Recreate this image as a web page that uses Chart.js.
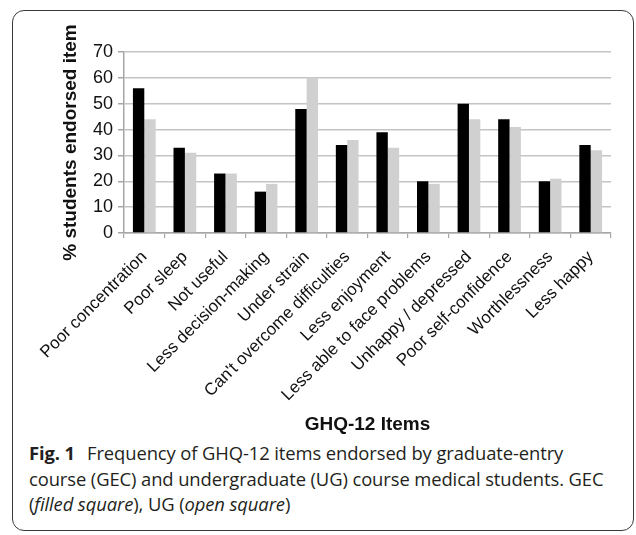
<!DOCTYPE html>
<html>
<head>
<meta charset="utf-8">
<script src="https://cdn.jsdelivr.net/npm/chart.js@4/dist/chart.umd.min.js"></script>
<style>
  html, body { margin: 0; padding: 0; background: #fff; }
  #wrap { position: relative; width: 636px; height: 535px; overflow: hidden; }
  #frame { position: absolute; left: 12px; top: 10px; width: 622px; height: 521px;
           border: 1.5px solid #3a3a3a; border-radius: 12px; box-sizing: border-box; }
  #chartBox { position: absolute; left: 0; top: 0; width: 636px; height: 440px; }
  #caption { position: absolute; left: 29px; top: 440px; width: 600px;
             font-family: "Open Sans", sans-serif; font-size: 18.4px; line-height: 25.5px;
             color: #231f20; white-space: nowrap; letter-spacing: -0.1px; }
  #caption b { font-weight: 700; margin-right: 12px; }
</style>
</head>
<body>
<div id="wrap">
  <div id="frame"></div>
  <div id="chartBox"><canvas id="c" width="636" height="440"></canvas></div>
  <div id="caption">
    <b>Fig. 1</b>Frequency of GHQ-12 items endorsed by graduate-entry<br>
    course (GEC) and undergraduate (UG) course medical students. GEC<br>
    (<i>filled square</i>), UG (<i>open square</i>)
  </div>
</div>
<script>
const categories = ["Poor concentration", "Poor sleep", "Not useful", "Less decision-making",
  "Under strain", "Can't overcome difficulties", "Less enjoyment", "Less able to face problems",
  "Unhappy / depressed", "Poor self-confidence", "Worthlessness", "Less happy"];
const gecValues = [56, 33, 23, 16, 48, 34, 39, 20, 50, 44, 20, 34];
const ugValues  = [44, 31, 23, 19, 60, 36, 33, 19, 44, 41, 21, 32];
const yTicks = [0, 10, 20, 30, 40, 50, 60, 70];
const yTitle = "% students endorsed item";
const xTitle = "GHQ-12 Items";

new Chart(document.getElementById('c'), {
  type: 'bar',
  data: {
    labels: categories,
    datasets: [
      { label: 'GEC', data: gecValues, backgroundColor: '#000000', borderWidth: 0,
        categoryPercentage: 0.56, barPercentage: 1.0 },
      { label: 'UG', data: ugValues, backgroundColor: '#d0d0d0', borderWidth: 0,
        categoryPercentage: 0.56, barPercentage: 1.0 }
    ]
  },
  options: {
    responsive: false,
    animation: false,
    devicePixelRatio: 1,
    layout: { padding: { left: 50, right: 25, top: 52, bottom: 0 } },
    plugins: { legend: { display: false }, tooltip: { enabled: false } },
    scales: {
      x: {
        offset: true,
        grid: { offset: true, drawOnChartArea: false, drawTicks: true, tickLength: 5,
                color: '#a6a6a6', lineWidth: 1.2 },
        border: { display: true, color: '#a6a6a6', width: 1.5 },
        ticks: { minRotation: 45, maxRotation: 45, autoSkip: false, color: '#111',
                 padding: 9, font: { family: 'Liberation Sans, Arial, sans-serif', size: 17 } },
        title: { display: true, text: xTitle, color: '#111',
                 font: { family: 'Liberation Sans, Arial, sans-serif', size: 19, weight: 'bold' },
                 padding: { top: 4, bottom: 4 } },
        afterFit(scale) { scale.height = 207; }
      },
      y: {
        min: 0, max: 70,
        afterBuildTicks(scale) { scale.ticks = yTicks.map(v => ({ value: v })); },
        grid: { color: '#c4c4c4', lineWidth: 1.5, drawTicks: true, tickLength: 6, tickColor: '#a6a6a6' },
        border: { display: true, color: '#a6a6a6', width: 1.5 },
        ticks: { color: '#111', padding: 5,
                 font: { family: 'Liberation Sans, Arial, sans-serif', size: 18 } },
        title: { display: true, text: yTitle, color: '#111',
                 font: { family: 'Liberation Sans, Arial, sans-serif', size: 19, weight: 'bold' },
                 padding: { top: 9, bottom: 0 } },
        afterFit(scale) { scale.width = 74; }
      }
    }
  }
});
</script>
</body>
</html>
